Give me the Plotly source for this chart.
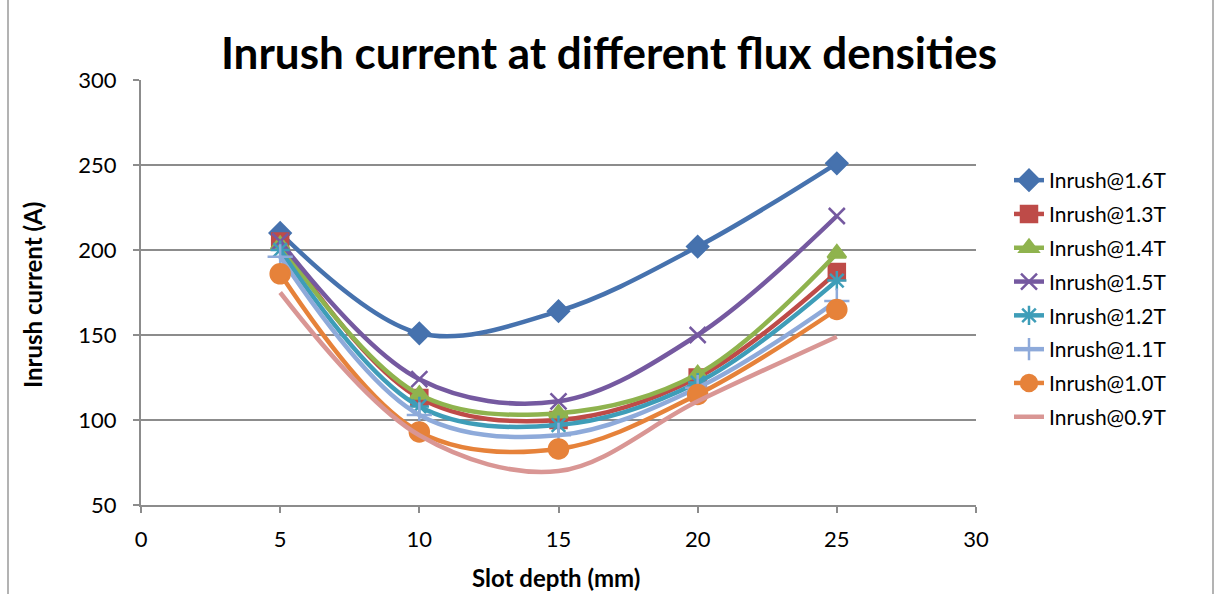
import plotly.graph_objects as go

slot_depth = [5, 10, 15, 20, 25]
series_names = ["Inrush@1.6T", "Inrush@1.3T", "Inrush@1.4T", "Inrush@1.5T",
                "Inrush@1.2T", "Inrush@1.1T", "Inrush@1.0T", "Inrush@0.9T"]
inrush_16 = [210, 151, 164, 202, 251]
inrush_13 = [205, 113, 100, 125, 187]
inrush_14 = [203, 115, 104, 127, 198]
inrush_15 = [205, 124, 111, 150, 220]
inrush_12 = [200, 108, 97, 122, 182]
inrush_11 = [196, 103, 91, 119, 170]
inrush_10 = [186, 93, 83, 115, 165]
inrush_09 = [175, 91, 70, 111, 149]
values = [inrush_16, inrush_13, inrush_14, inrush_15, inrush_12, inrush_11, inrush_10, inrush_09]

colors = ["#4672AE", "#BE4B48", "#8FB34E", "#7559A0", "#3E9DB8", "#8EAADA", "#E6823A", "#D99694"]
symbols = ["diamond", "square", "triangle-up", "x-thin-open", "asterisk-open", "cross-thin-open", "circle", None]
sizes = [16, 16, 16, 16, 16, 18, 19, 0]

FONT = "Lato"
fig = go.Figure()
for i, (name, vals) in enumerate(zip(series_names, values)):
    mk = dict(color=colors[i], size=sizes[i], line=dict(color=colors[i], width=2.5))
    if symbols[i] is None:
        mode = "lines"
    else:
        mode = "lines+markers"
        mk["symbol"] = symbols[i]
    fig.add_trace(go.Scatter(
        x=slot_depth, y=vals, name=name, mode=mode,
        line=dict(color=colors[i], width=4.5, shape="spline", smoothing=1.0),
        marker=mk, legendgroup=name,
    ))

grid_col = "#8C8C8C"
fig.update_layout(
    width=1218, height=594,
    margin=dict(l=141, r=242, t=80, b=89),
    paper_bgcolor="white", plot_bgcolor="white",
    font=dict(family=FONT, size=22, color="#000000"),
    title=dict(text="<b>Inrush current at different flux densities</b>",
               x=0.5, xref="container", xanchor="center",
               y=1 - 54 / 594, yref="container", yanchor="middle",
               font=dict(family=FONT, size=44, color="#000000")),
    showlegend=True,
    legend=dict(x=(1009 - 141) / 835, xref="paper", xanchor="left", y=(505 - 160) / 425, yanchor="top",
                font=dict(family=FONT, size=21, color="#000000"),
                tracegroupgap=3.5, traceorder="grouped",
                bgcolor="rgba(0,0,0,0)", borderwidth=0),
    xaxis=dict(range=[0, 30], tickvals=[0, 5, 10, 15, 20, 25, 30],
               showgrid=False, zeroline=False, showline=True, linecolor=grid_col, linewidth=2,
               ticks="outside", ticklen=6, tickcolor=grid_col, tickwidth=1.5,
               ticklabelstandoff=8,
               tickfont=dict(family=FONT, size=22)),
    yaxis=dict(range=[50, 300], tickvals=[50, 100, 150, 200, 250, 300],
               showgrid=True, gridcolor=grid_col, gridwidth=2, zeroline=False,
               showline=True, linecolor=grid_col, linewidth=2,
               ticks="outside", ticklen=6, tickcolor=grid_col, tickwidth=1.5,
               ticklabelstandoff=12,
               tickfont=dict(family=FONT, size=22)),
    annotations=[
        dict(text="<b>Inrush current (A)</b>", textangle=-90, xref="paper", yref="paper",
             x=(32 - 141) / 835, y=(505 - 295) / 425, xanchor="center", yanchor="middle",
             showarrow=False, font=dict(family=FONT, size=24)),
        dict(text="<b>Slot depth (mm)</b>", xref="paper", yref="paper",
             x=(556 - 141) / 835, y=-(577 - 505) / 425, xanchor="center", yanchor="middle",
             showarrow=False, font=dict(family=FONT, size=24)),
    ],
    shapes=[
        dict(type="line", xref="paper", yref="paper", x0=(8 - 141) / 835, x1=(8 - 141) / 835,
             y0=-1, y1=2, line=dict(color="#9A9A9A", width=1.5)),
        dict(type="line", xref="paper", yref="paper", x0=(1213 - 141) / 835, x1=(1213 - 141) / 835,
             y0=-1, y1=2, line=dict(color="#9A9A9A", width=1.5)),
    ],
)

fig.write_html("out.html")
